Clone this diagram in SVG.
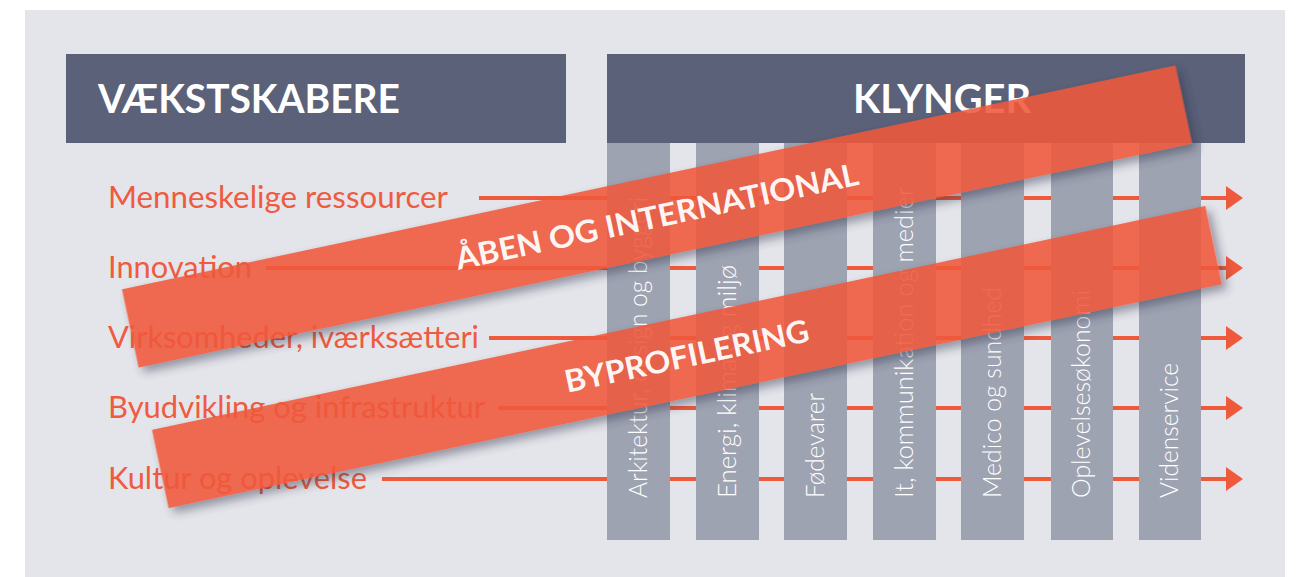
<svg xmlns="http://www.w3.org/2000/svg" width="1299" height="577" viewBox="0 0 1299 577">
  <defs>
    <style>
      .hdr { fill: #5a6178; }
      .hdrtxt { font-family: Lato, "Open Sans", "DejaVu Sans", sans-serif; font-weight: 700; font-size: 40px; fill: #ffffff; }
      .col { fill: #9ea3b2; }
      .coltxt { font-family: Lato, "Open Sans", "DejaVu Sans", sans-serif; font-weight: 300; font-size: 25px; fill: #ffffff; }
      .lbl { font-family: Lato, "Open Sans", "DejaVu Sans", sans-serif; font-weight: 400; font-size: 31px; fill: #ef5b3f; }
      .ln { stroke: #ef5a3c; stroke-width: 4; fill: none; }
      .ah { fill: #ef5a3c; }
      .bnr { fill: #f0583a; }
      .bnrtxt { font-family: Lato, "Open Sans", "DejaVu Sans", sans-serif; font-weight: 700; font-size: 31px; fill: #ffffff; fill-opacity: 0.95; }
    </style>
    <filter id="sh" x="-5%" y="-60%" width="110%" height="220%">
      <feGaussianBlur in="SourceAlpha" stdDeviation="5"/>
      <feOffset dx="4" dy="6" result="b"/>
      <feComposite in="b" in2="SourceAlpha" operator="out" result="o"/>
      <feFlood flood-color="#2b3048" flood-opacity="0.5"/>
      <feComposite in2="o" operator="in" result="s"/>
      <feMerge>
        <feMergeNode in="s"/>
        <feMergeNode in="SourceGraphic"/>
      </feMerge>
    </filter>
  </defs>

  <rect x="0" y="0" width="1299" height="577" fill="#ffffff"/>
  <rect x="25" y="10" width="1260" height="567" fill="#e4e5ea"/>

  <g id="header-vaekstskabere">
    <rect class="hdr" x="66" y="54" width="500" height="89"/>
    <text class="hdrtxt" x="98" y="113" textLength="302" lengthAdjust="spacingAndGlyphs">VÆKSTSKABERE</text>
  </g>
  <g id="header-klynger">
    <rect class="hdr" x="607" y="54" width="638" height="89"/>
    <text class="hdrtxt" x="853" y="113" textLength="178" lengthAdjust="spacingAndGlyphs">KLYNGER</text>
  </g>

  <g id="connectors">
    <line class="ln" x1="479" y1="198" x2="1228" y2="198"/>
    <polygon class="ah" points="1226,186 1243,198 1226,210"/>
    <line class="ln" x1="266" y1="268" x2="1228" y2="268"/>
    <polygon class="ah" points="1226,256 1243,268 1226,280"/>
    <line class="ln" x1="489" y1="338" x2="1228" y2="338"/>
    <polygon class="ah" points="1226,326 1243,338 1226,350"/>
    <line class="ln" x1="498" y1="408" x2="1228" y2="408"/>
    <polygon class="ah" points="1226,396 1243,408 1226,420"/>
    <line class="ln" x1="382" y1="479" x2="1228" y2="479"/>
    <polygon class="ah" points="1226,467 1243,479 1226,491"/>
  </g>

  <g id="col-arkitektur">
    <rect class="col" x="607" y="143" width="63" height="397"/>
    <text class="coltxt" transform="translate(647,498) rotate(-90)" textLength="301" lengthAdjust="spacingAndGlyphs">Arkitektur, design og byggeri</text>
  </g>
  <g id="col-energi">
    <rect class="col" x="696" y="143" width="63" height="397"/>
    <text class="coltxt" transform="translate(736,498) rotate(-90)" textLength="233" lengthAdjust="spacingAndGlyphs">Energi, klima og miljø</text>
  </g>
  <g id="col-foedevarer">
    <rect class="col" x="784" y="143" width="63" height="397"/>
    <text class="coltxt" transform="translate(824,498) rotate(-90)" textLength="105" lengthAdjust="spacingAndGlyphs">Fødevarer</text>
  </g>
  <g id="col-it">
    <rect class="col" x="873" y="143" width="63" height="397"/>
    <text class="coltxt" transform="translate(913,498) rotate(-90)" textLength="311" lengthAdjust="spacingAndGlyphs">It, kommunikation og medier</text>
  </g>
  <g id="col-medico">
    <rect class="col" x="961" y="143" width="63" height="397"/>
    <text class="coltxt" transform="translate(1001,498) rotate(-90)" textLength="211" lengthAdjust="spacingAndGlyphs">Medico og sundhed</text>
  </g>
  <g id="col-oplevelse">
    <rect class="col" x="1051" y="143" width="62" height="397"/>
    <text class="coltxt" transform="translate(1090,498) rotate(-90)" textLength="208" lengthAdjust="spacingAndGlyphs">Oplevelsesøkonomi</text>
  </g>
  <g id="col-videnservice">
    <rect class="col" x="1139" y="143" width="62" height="397"/>
    <text class="coltxt" transform="translate(1178,498) rotate(-90)" textLength="135" lengthAdjust="spacingAndGlyphs">Videnservice</text>
  </g>

  <g id="lbl-menneskelige">
    <text class="lbl" x="108" y="207.5" textLength="340" lengthAdjust="spacingAndGlyphs">Menneskelige ressourcer</text>
  </g>
  <g id="lbl-innovation">
    <text class="lbl" x="108" y="277.5" textLength="144" lengthAdjust="spacingAndGlyphs">Innovation</text>
  </g>
  <g id="lbl-virksomheder">
    <text class="lbl" x="108" y="347.5" textLength="371" lengthAdjust="spacingAndGlyphs">Virksomheder, iværksætteri</text>
  </g>
  <g id="lbl-byudvikling">
    <text class="lbl" x="108" y="418" textLength="377" lengthAdjust="spacingAndGlyphs">Byudvikling og infrastruktur</text>
  </g>
  <g id="lbl-kultur">
    <text class="lbl" x="108" y="488.5" textLength="259" lengthAdjust="spacingAndGlyphs">Kultur og oplevelse</text>
  </g>

  <g id="banner-aaben" transform="translate(657,216.5) rotate(-12)">
    <g opacity="0.88" filter="url(#sh)">
      <rect class="bnr" x="-538.5" y="-40" width="1077" height="80"/>
    </g>
    <text class="bnrtxt" x="0" y="11" text-anchor="middle" textLength="411" lengthAdjust="spacingAndGlyphs">ÅBEN OG INTERNATIONAL</text>
  </g>
  <g id="banner-byprofilering" transform="translate(687,357) rotate(-12)">
    <g opacity="0.88" filter="url(#sh)">
      <rect class="bnr" x="-538.5" y="-40" width="1077" height="80"/>
    </g>
    <text class="bnrtxt" x="0" y="10" text-anchor="middle" textLength="249" lengthAdjust="spacingAndGlyphs">BYPROFILERING</text>
  </g>
</svg>
